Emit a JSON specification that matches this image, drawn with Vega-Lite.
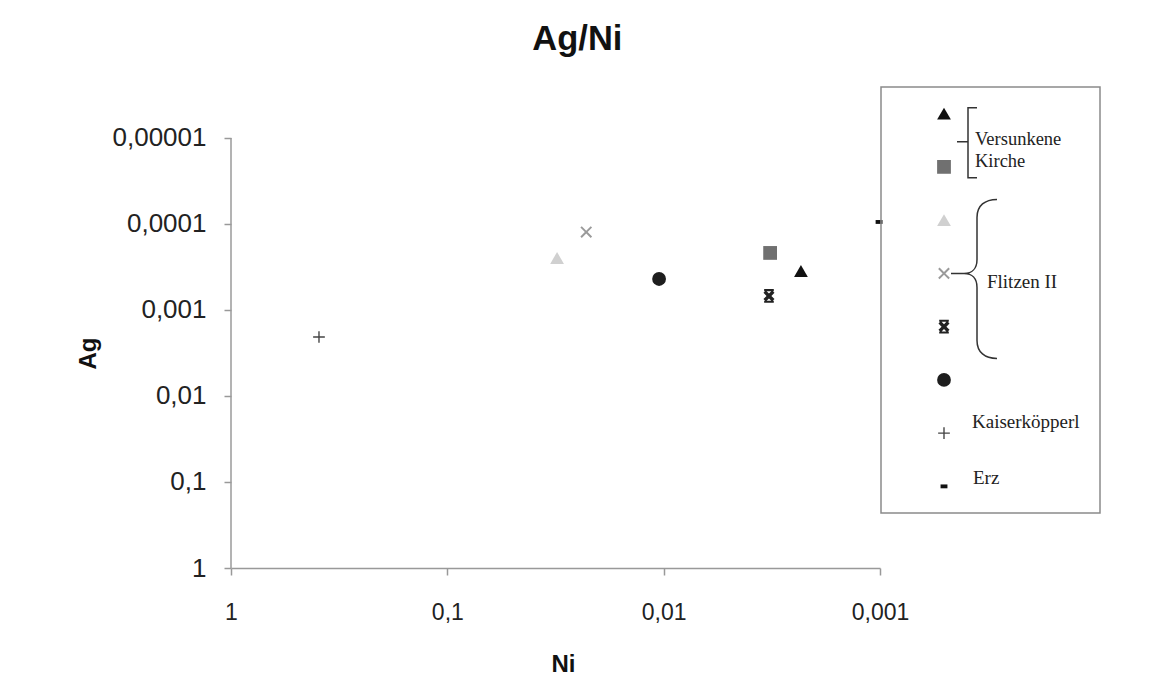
{
  "$schema": "https://vega.github.io/schema/vega-lite/v6.json",
  "padding": {"left": 76, "top": 21, "right": 0, "bottom": 0},
  "background": "white",
  "datasets": {
    "points": [
      {"series": "VK1", "Ni": 0.00232, "Ag": 0.000352},
      {"series": "VK2", "Ni": 0.00322, "Ag": 0.000217},
      {"series": "F1", "Ni": 0.0311, "Ag": 0.000248},
      {"series": "F2", "Ni": 0.0228, "Ag": 0.000124},
      {"series": "F3", "Ni": 0.00326, "Ag": 0.000687},
      {"series": "K", "Ni": 0.0105, "Ag": 0.000436},
      {"series": "Kaiserköpperl", "Ni": 0.392, "Ag": 0.00206},
      {"series": "Erz", "Ni": 0.00101, "Ag": 0.0000947}
    ],
    "legend": [
      {"series": "VK1", "label": "Versunkene Kirche"},
      {"series": "VK2", "label": ""},
      {"series": "F1", "label": ""},
      {"series": "F2", "label": "Flitzen II"},
      {"series": "F3", "label": ""},
      {"series": "K", "label": ""},
      {"series": "Kaiserköpperl", "label": "Kaiserköpperl"},
      {"series": "Erz", "label": "Erz"}
    ]
  },
  "title": {
    "text": "Ag/Ni",
    "font": "Liberation Sans",
    "fontSize": 34.5,
    "fontWeight": "bold",
    "color": "#111111",
    "anchor": "middle",
    "offset": 29,
    "dx": -11
  },
  "bounds": "flush",
  "spacing": 1,
  "resolve": {"scale": {"x": "independent", "y": "independent"}},
  "hconcat": [
    {
      "width": 649,
      "height": 481,
      "layer": [
        {
          "data": {"values": [{}]},
          "mark": {"type": "rule", "color": "#9a9a9a", "strokeWidth": 1.5},
          "encoding": {
            "x": {"datum": 1, "type": "quantitative", "scale": {"type": "log", "domain": [0.001, 1], "reverse": true, "nice": false}},
            "y": {"datum": 0.00001, "type": "quantitative", "scale": {"type": "log", "domain": [0.000002553, 1], "reverse": true, "nice": false}},
            "y2": {"datum": 1}
          }
        },
        {
          "data": {"name": "points"},
          "mark": {"type": "point", "filled": true, "size": 190, "opacity": 1},
          "encoding": {
            "x": {
              "field": "Ni", "type": "quantitative",
              "scale": {"type": "log", "domain": [0.001, 1], "reverse": true, "nice": false},
              "axis": {
                "values": [1, 0.1, 0.01, 0.001],
                "labelExpr": "replace(toString(datum.value), '.', ',')",
                "labelFlush": false,
                "title": "Ni", "grid": false,
                "tickSize": 7, "tickColor": "#999999", "tickWidth": 1.5,
                "domainColor": "#999999", "domainWidth": 1.5,
                "labelFont": "Liberation Sans", "labelFontSize": 23, "labelColor": "#222222", "labelPadding": 26,
                "titleFont": "Liberation Sans", "titleFontSize": 24, "titleFontWeight": "bold", "titleColor": "#111111",
                "titleX": 332, "titleY": 96, "titleBaseline": "middle"
              }
            },
            "y": {
              "field": "Ag", "type": "quantitative",
              "scale": {"type": "log", "domain": [0.000002553, 1], "reverse": true, "nice": false},
              "axis": {
                "values": [1, 0.1, 0.01, 0.001, 0.0001, 0.00001],
                "labelExpr": "replace(toString(datum.value), '.', ',')",
                "labelFlush": false,
                "title": "Ag", "grid": false, "domain": false,
                "tickSize": 7, "tickColor": "#999999", "tickWidth": 1.5,
                "labelFont": "Liberation Sans", "labelFontSize": 26, "labelColor": "#222222", "labelPadding": 18,
                "titleFont": "Liberation Sans", "titleFontSize": 24, "titleFontWeight": "bold", "titleColor": "#111111",
                "titleX": -143, "titleY": 266, "titleBaseline": "middle", "titleAngle": -90
              }
            },
            "shape": {
              "field": "series", "type": "nominal", "legend": null,
              "scale": {
                "domain": ["VK1", "VK2", "F1", "F2", "F3", "K", "Kaiserköpperl", "Erz"],
                "range": [
                  "triangle-up", "square", "triangle-up",
                  "M-0.85,-0.65L-0.65,-0.85L0,-0.2L0.65,-0.85L0.85,-0.65L0.2,0L0.85,0.65L0.65,0.85L0,0.2L-0.65,0.85L-0.85,0.65L-0.2,0Z",
                  "M-0.8,-0.45L-0.45,-0.8L0,-0.35L0.45,-0.8L0.8,-0.45L0.35,0L0.8,0.45L0.45,0.8L0,0.35L-0.45,0.8L-0.8,0.45L-0.35,0Z M-0.7,-1H0.7V-0.7H-0.7Z M-0.7,0.7H0.7V1H-0.7Z",
                  "circle",
                  "M-0.1,-0.85H0.1V-0.1H0.85V0.1H0.1V0.85H-0.1V0.1H-0.85V-0.1H-0.1Z",
                  "M-0.5,-0.28H0.5V0.28H-0.5Z"
                ]
              }
            },
            "color": {
              "field": "series", "type": "nominal", "legend": null,
              "scale": {
                "domain": ["VK1", "VK2", "F1", "F2", "F3", "K", "Kaiserköpperl", "Erz"],
                "range": ["#111111", "#707070", "#d0d0d0", "#9a9a9a", "#222222", "#1e1e1e", "#444444", "#111111"]
              }
            }
          }
        }
      ]
    },
    {
      "width": 219,
      "height": 426,
      "view": {"stroke": "#8a8a8a", "strokeWidth": 1.5},
      "data": {"name": "legend"},
      "encoding": {
        "y": {
          "field": "series", "type": "nominal",
          "sort": ["VK1", "VK2", "F1", "F2", "F3", "K", "Kaiserköpperl", "Erz"],
          "scale": {"type": "point", "padding": 0.5},
          "axis": null
        }
      },
      "layer": [
        {
          "mark": {"type": "point", "filled": true, "size": 190, "opacity": 1, "xOffset": -46.5},
          "encoding": {
            "shape": {"field": "series", "type": "nominal", "legend": null},
            "color": {"field": "series", "type": "nominal", "legend": null}
          }
        },
        {
          "transform": [{"filter": "datum.series == 'VK1'"}],
          "mark": {"type": "text", "font": "Liberation Serif", "fontSize": 18.5, "color": "#222222", "align": "left", "baseline": "middle", "dx": -15.5, "dy": 25.5, "lineBreak": " ", "lineHeight": 22},
          "encoding": {"text": {"field": "label"}}
        },
        {
          "transform": [{"filter": "datum.series == 'F2'"}],
          "mark": {"type": "text", "font": "Liberation Serif", "fontSize": 19, "color": "#222222", "align": "left", "baseline": "middle", "dx": -3.5, "dy": 9},
          "encoding": {"text": {"field": "label"}}
        },
        {
          "transform": [{"filter": "datum.series == 'Kaiserköpperl'"}],
          "mark": {"type": "text", "font": "Liberation Serif", "fontSize": 19, "color": "#222222", "align": "left", "baseline": "middle", "dx": -18.5, "dy": -11},
          "encoding": {"text": {"field": "label"}}
        },
        {
          "transform": [{"filter": "datum.series == 'Erz'"}],
          "mark": {"type": "text", "font": "Liberation Serif", "fontSize": 19, "color": "#222222", "align": "left", "baseline": "middle", "dx": -17.5, "dy": -8},
          "encoding": {"text": {"field": "label"}}
        },
        {
          "transform": [{"filter": "datum.series == 'VK1'"}],
          "mark": {"type": "point", "filled": false, "size": 4, "opacity": 1, "strokeWidth": 1.5, "color": "#333333", "xOffset": -46.5,
                   "shape": "M33,-6H24V64H33M13,28H24"}
        },
        {
          "transform": [{"filter": "datum.series == 'F2'"}],
          "mark": {"type": "point", "filled": false, "size": 4, "opacity": 1, "strokeWidth": 1.5, "color": "#333333", "xOffset": -46.5,
                   "shape": "M53,-74C41,-74 33,-68 33,-56V-14C33,-5 28,0 20,0C28,0 33,5 33,14V67C33,79 41,85 53,85M20,0H7"}
        }
      ]
    }
  ],
  "config": {
    "view": {"stroke": null},
    "font": "Liberation Sans"
  }
}
